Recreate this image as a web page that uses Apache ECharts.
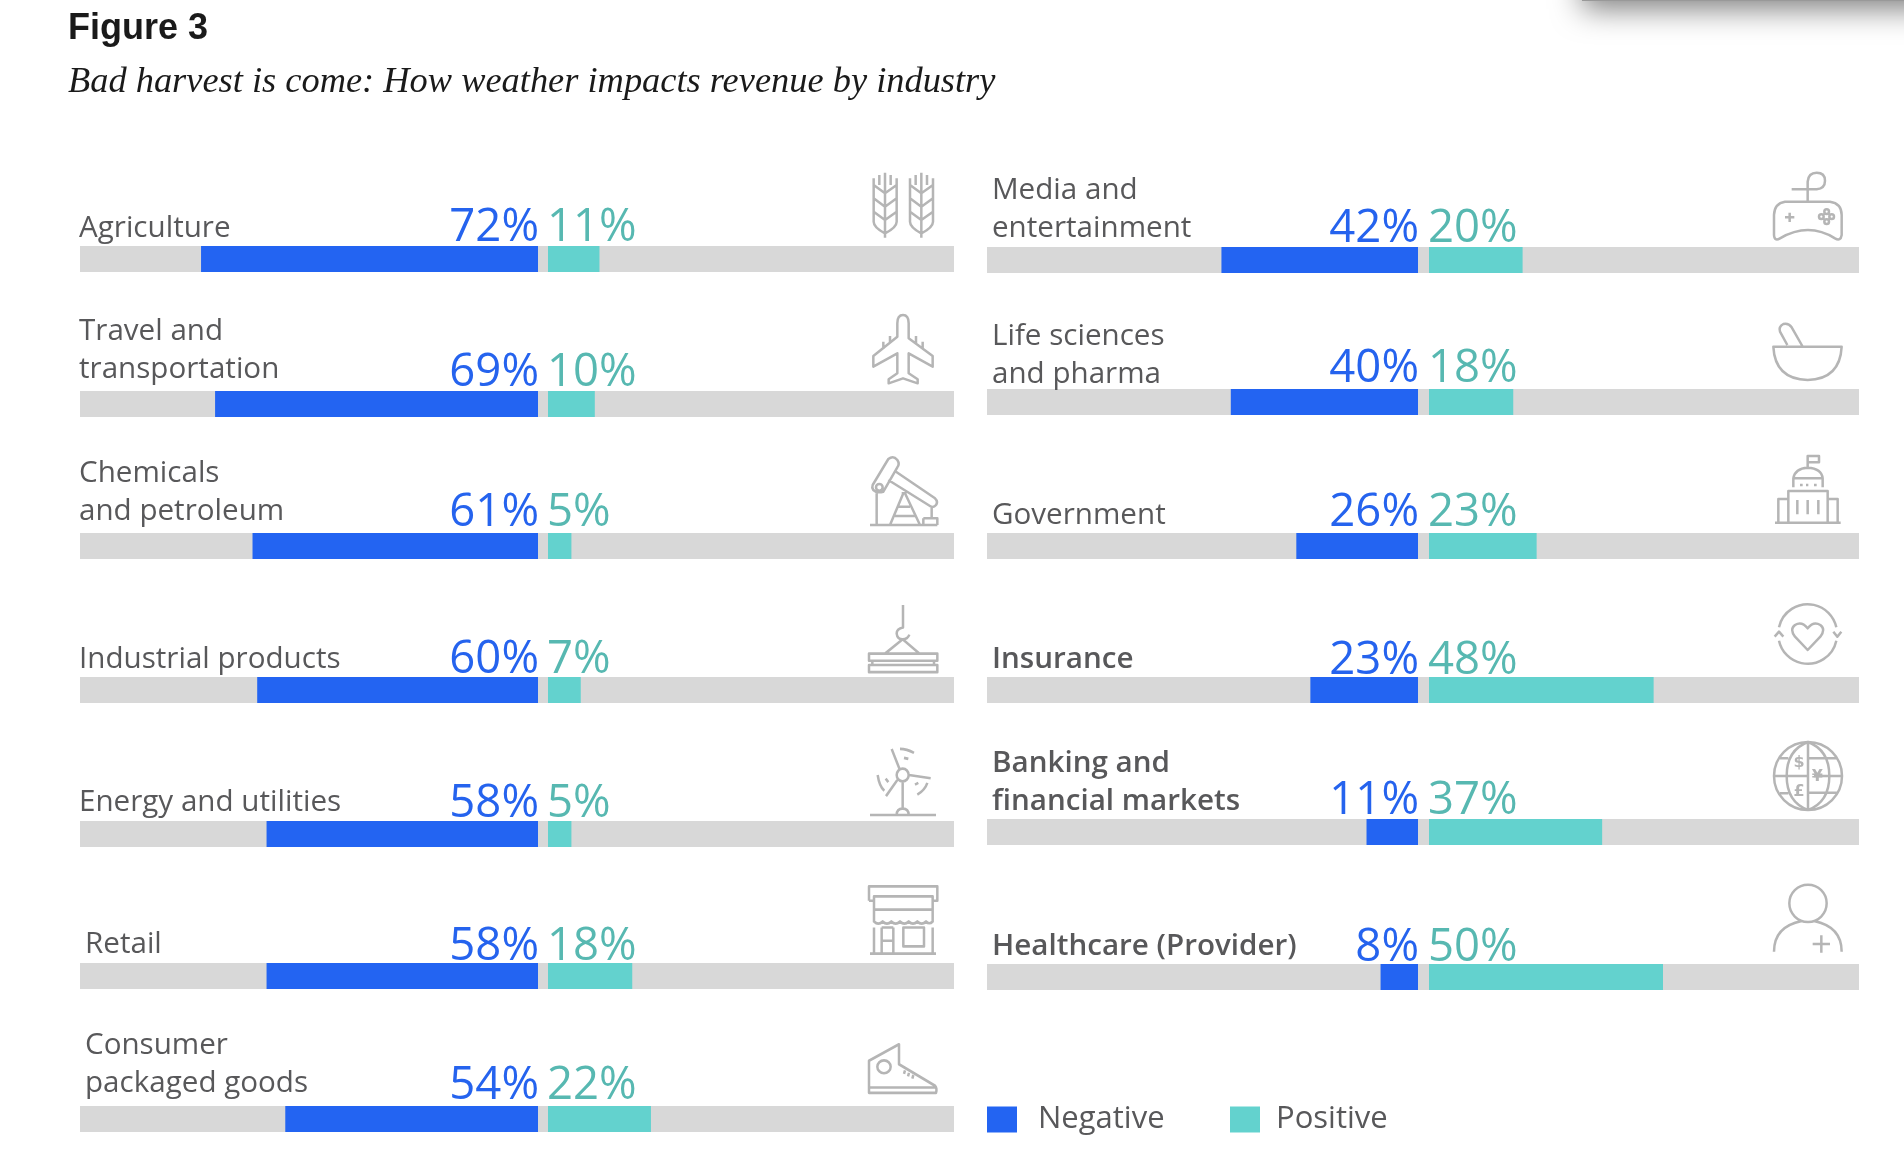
<!DOCTYPE html>
<html><head><meta charset="utf-8">
<style>html,body{margin:0;padding:0;background:#fff}#c{width:1904px;height:1168px}</style>
<script src="https://cdn.jsdelivr.net/npm/echarts@6/dist/echarts.min.js"></script>
</head><body><div id="c"></div>
<script>
// ---- data ----
const categories = ['Agriculture','Travel and\ntransportation','Chemicals\nand petroleum','Industrial products','Energy and utilities','Retail','Consumer\npackaged goods',
  'Media and\nentertainment','Life sciences\nand pharma','Government','Insurance','Banking and\nfinancial markets','Healthcare (Provider)'];
const negative = [72,69,61,60,58,58,54,42,40,26,23,11,8];
const positive = [11,10,5,7,5,18,22,20,18,23,48,37,50];
const legendNames = ['Negative','Positive'];
const strongRows = ['Insurance','Banking and\nfinancial markets','Healthcare (Provider)'];

// ---- layout ----
const rowTop  = [246,391,533,677,821,963,1106, 247,389,533,677,819,964];
const rowLift = [9,13,13,9,10,10,14, 10,6,9,9,9,9];
const rowInset= [0,0,0,0,0,6,6, 6,6,6,6,6,6];
const numDrop = [3.6,3.6,2.4,4.8,4.8,6,2.4, 3.6,2.4,2.4,6,3.6,6];
const LEFT = {x:80,w:874,neg0:538,pos0:548}, RIGHT = {x:987,w:872,neg0:1418,pos0:1429};
const BAR_H = 26, PX_PER_UNIT = 4.68;
const BLUE='#2364f2', TEAL='#63d2ce', TRACK='#d8d8d8', TXT='#58585a', ICON='#b5b5b5';
const NAME_FONT='Open Sans', NUM_FONT='Open Sans';

const grid=[], xAxis=[], yAxis=[], series=[];
categories.forEach((name,i)=>{
  const p = i<7?LEFT:RIGHT;
  grid.push({left:p.x,width:p.w,top:rowTop[i],height:BAR_H,show:true,backgroundColor:TRACK,borderWidth:0,containLabel:false});
  const nx=xAxis.length;
  // both axes span the same track; each has its own zero on either side of the centre gap
  xAxis.push({gridIndex:i,type:'value',show:false,inverse:true,
    min:-(p.x+p.w-p.neg0)/PX_PER_UNIT,max:(p.neg0-p.x)/PX_PER_UNIT});
  xAxis.push({gridIndex:i,type:'value',show:false,
    min:-(p.pos0-p.x)/PX_PER_UNIT,max:(p.x+p.w-p.pos0)/PX_PER_UNIT});
  yAxis.push({gridIndex:i,type:'category',data:[name],axisLine:{show:false},axisTick:{show:false},splitLine:{show:false},
    axisLabel:{inside:true,margin:rowInset[i]-1,align:'left',verticalAlign:'bottom',lineHeight:37.5,
      padding:[0,0,13+rowLift[i]-10,0],fontFamily:NAME_FONT,fontSize:29.6,
      fontWeight:strongRows.includes(name)?600:400,color:TXT}});
  const lab=(pos,color,dx)=>({show:true,position:pos,distance:0,offset:[dx,-35+numDrop[i]],formatter:'{c}%',
    fontFamily:NUM_FONT,fontSize:45.5,color:color});
  series.push({name:legendNames[0],type:'bar',xAxisIndex:nx,yAxisIndex:i,barWidth:'100%',barGap:'-100%',
    data:[negative[i]],itemStyle:{color:BLUE},label:lab('insideRight','#2563ee',1)});
  series.push({name:legendNames[1],type:'bar',xAxisIndex:nx+1,yAxisIndex:i,barWidth:'100%',barGap:'-100%',
    data:[positive[i]],itemStyle:{color:TEAL},label:lab('insideLeft','#57b8b1',-1)});
});

// ---- icons: [origin x, origin y, scale x, scale y, svg path] ----
const S3=1/3, S28=1/2.8;
const icons=[
 // wheat
 [840,150,S3,S3,'M135 68V263M101 85V215Q101 232 135 250M170 85V215Q170 232 135 250M118 75V105M152 75V105M101 105L135 130L170 105M101 145L135 170L170 145M101 185L135 210L170 185'+
  'M244 68V263M210 85V215Q210 232 244 250M279 85V215Q279 232 244 250M227 75V105M261 75V105M210 105L244 130L279 105M210 145L244 170L279 145M210 185L244 210L279 185'],
 // plane
 [840,150,S3,S3,'M172 560V520Q172 495 189 495Q206 495 206 520V565L278 618V650L206 610V670L233 688V700L189 685L146 700V688L172 670V610L100 650V618ZM130 597V575M150 580V558M228 580V558M248 597V575'],
 // pump
 [860,160,S3,S3,'M30 1095H232M38 975L85 897Q100 885 112 900Q120 912 112 922L70 995Q50 1000 40 990Q35 982 38 975ZM68 982A10 10 0 1 1 48 982A10 10 0 1 1 68 982M108 935L225 1015Q235 1025 228 1035Q220 1045 210 1038L85 960M50 1000V1095M130 1000L90 1095M135 1000L180 1095M115 1040H150M105 1068H165M125 1000H140M215 1040V1075M190 1075H232V1095M190 1075V1095'],
 // crane
 [840,590,S3,S28,'M189 42V105Q170 108 170 122Q172 138 188 138Q203 138 208 125M135 178L188 138L238 178M87 178H292V198H87ZM87 210H292V230H87ZM97 198V210M282 198V210'],
 // wind
 [840,590,S3,S28,'M206 518A18 18 0 1 1 170 518A18 18 0 1 1 206 518M188 538V612M90 630H288M170 630Q170 612 188 612Q206 612 206 630M178 500L155 445M207 518L272 527M172 532L138 577M180 445Q200 445 222 456M192 470L205 473M113 518Q118 550 133 562M137 528L145 538M262 540Q255 560 232 573M225 545L235 540'],
 // shop
 [840,590,S3,S28,'M87 870V830H292V870H278M87 870H102M102 858H278V895H102ZM102 895V930M278 895V930M102 928Q115 940 128 928Q141 940 154 928Q167 940 180 928Q193 940 206 928Q219 940 232 928Q245 940 258 928Q268 938 278 928M102 945V1018M278 945V1018M125 945V1018M160 945V1018M125 945H160M125 982H160M190 945H252V998H190ZM90 1018H288'],
 // shoe
 [840,590,S3,S28,'M87 1318L177 1272V1328L285 1388Q292 1395 288 1408H87ZM87 1393H288M152 1335A20 18 0 1 1 112 1335A20 18 0 1 1 152 1335M195 1345L192 1355M207 1352L204 1362M220 1358L217 1368'],
 // controller
 [1740,150,S3,S3,'M135 155H270Q305 160 305 195V255Q302 275 285 265Q205 215 120 265Q103 275 102 255V195Q103 160 135 155ZM203 155V95Q205 68 230 68Q255 68 255 92Q255 115 230 118H155M135 202H163M149 188V216M267 185A7 7 0 1 1 253 185A7 7 0 1 1 267 185M267 215A7 7 0 1 1 253 215A7 7 0 1 1 267 215M251 200A7 7 0 1 1 237 200A7 7 0 1 1 251 200M282 200A7 7 0 1 1 268 200A7 7 0 1 1 282 200'],
 // mortar
 [1740,150,S3,S3,'M100 590H305Q300 688 203 690Q105 688 100 590ZM142 585L120 545Q115 530 130 522Q145 518 155 532L187 588'],
 // capitol
 [1740,150,S3,S3,'M203 955V918H237V937H203M160 1012V985Q165 955 203 953Q245 955 248 985V1012M160 985H248M180 1005H188M198 1005H205M222 1005H230M145 1118V1023H263V1118M145 1047H115V1118M263 1047H293V1118M105 1118H302M172 1050V1093M203 1050V1093M235 1050V1093'],
 // insurance
 [1740,590,S3,S3,'M117 112A88 88 0 0 1 289 112M280 125L292 140L304 125M289 152A88 88 0 0 1 117 152M104 140L117 125L130 140M203 180L165 140Q148 118 165 105Q185 92 203 115Q221 92 241 105Q258 118 241 140Z'],
 // globe
 [1740,590,S3,S3,'M306 558A102 102 0 1 1 102 558A102 102 0 1 1 306 558M204 456V660M204 456Q140 480 140 558Q140 636 204 660Q268 636 268 558Q268 480 204 456M120 505H145M204 505H290M105 558H204M204 608H290M120 610H145M222 558H303'],
 // person
 [1740,590,S3,S3,'M260 940A56 56 0 1 1 148 940A56 56 0 1 1 260 940M102 1085Q102 1010 185 993M222 993Q305 1010 305 1085M218 1062H270M244 1036V1088']
];
const globeGlyphs=[['$',177,518],['¥',232,562],['£',177,605]];

series.push({type:'custom',coordinateSystem:'none',silent:true,data:icons.map((d,i)=>i),
  renderItem:(params)=>{
    const d=icons[params.dataIndex];
    const children=[{type:'path',shape:{pathData:d[4]},style:{fill:'none',stroke:ICON,lineWidth:7.5,lineJoin:'round',lineCap:'butt'}}];
    if(params.dataIndex===11) globeGlyphs.forEach(g=>children.push({type:'text',x:g[1],y:g[2],
      style:{text:g[0],fontFamily:'DejaVu Sans',fontWeight:'bold',fontSize:48,fill:ICON,align:'center',verticalAlign:'middle'}}));
    return {type:'group',x:d[0],y:d[1],scaleX:d[2],scaleY:d[3],children};
  }});

const chart=echarts.init(document.getElementById('c'),null,{width:1904,height:1168,renderer:'canvas'});
const legendText=(pad)=>({fontFamily:NAME_FONT,fontSize:31,color:TXT,padding:[0,0,0,pad]});
chart.setOption({
  animation:false,backgroundColor:'#fff',
  title:[
    {text:'Figure 3',left:63,top:6,textStyle:{fontFamily:'Liberation Sans',fontWeight:'bold',fontSize:36,color:'#1a1a1a'}},
    {text:'Bad harvest is come: How weather impacts revenue by industry',left:63,top:59,
      textStyle:{fontFamily:'Liberation Serif',fontStyle:'italic',fontWeight:'normal',fontSize:36.4,color:'#1a1a1a'}}
  ],
  legend:[
    {data:[legendNames[0]],left:982,top:1099,icon:'rect',itemWidth:30,itemHeight:26,textStyle:legendText(16),selectedMode:false},
    {data:[legendNames[1]],left:1225,top:1099,icon:'rect',itemWidth:30,itemHeight:26,textStyle:legendText(11),selectedMode:false}
  ],
  graphic:[{type:'rect',shape:{x:1582,y:-60,width:380,height:61},style:{fill:'#999',shadowBlur:30,shadowColor:'rgba(0,0,0,0.5)',shadowOffsetY:8},silent:true}],
  grid,xAxis,yAxis,series
});
</script></body></html>
